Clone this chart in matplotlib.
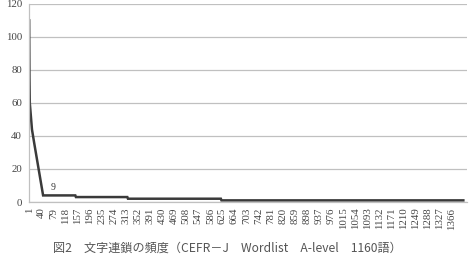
import numpy as np
import matplotlib
matplotlib.use("Agg")
import matplotlib.pyplot as plt

# rank of the character chain vs. its frequency
rank = [1, 2, 3, 10, 17, 46, 150, 152, 318, 320, 620, 622, 1403]
freq = [110, 75, 60, 44, 36, 4, 4, 3, 3, 2, 2, 1, 1]
x_ticks = list(range(1, 1367, 39))
y_ticks = [0, 20, 40, 60, 80, 100, 120]
caption = "図2　文字連鎖の頻度（CEFR－J　Wordlist　A-level　1160語）"

fig = plt.figure(figsize=(4.71, 2.60), dpi=100)
ax = fig.add_axes([0.0616, 0.223, 0.93, 0.762])

ax.plot(rank, freq, color="#3a3a3a", linewidth=1.8, solid_joinstyle="miter")
ax.text(79, 8.5, "9", fontsize=7, family="Liberation Serif", color="#333333",
        ha="center", va="center")

ax.set_xlim(0.5, 1415)
ax.set_ylim(0, 120)
ax.set_yticks(y_ticks)
ax.set_xticks(x_ticks)
ax.set_xticklabels([str(t) for t in x_ticks], rotation=90, fontsize=7.8,
                   family="Liberation Serif", color="#444444")
ax.set_yticklabels([str(t) for t in y_ticks], fontsize=7.8,
                   family="Liberation Serif", color="#444444")
ax.tick_params(length=0, pad=5)
ax.tick_params(axis="x", pad=4)

ax.grid(axis="y", color="#c0c0c0", linewidth=0.9)
ax.set_axisbelow(True)
for side in ["top", "right"]:
    ax.spines[side].set_visible(False)
ax.spines["left"].set_color("#c0c0c0")
ax.spines["bottom"].set_color("#c0c0c0")
ax.spines["left"].set_linewidth(0.9)
ax.spines["bottom"].set_linewidth(0.9)

fig.text(0.482, 0.046, caption, ha="center", va="center", fontsize=8.7,
         family=["Noto Sans CJK JP", "DejaVu Sans"], color="#555555")

fig.savefig("out.png", dpi=100)
